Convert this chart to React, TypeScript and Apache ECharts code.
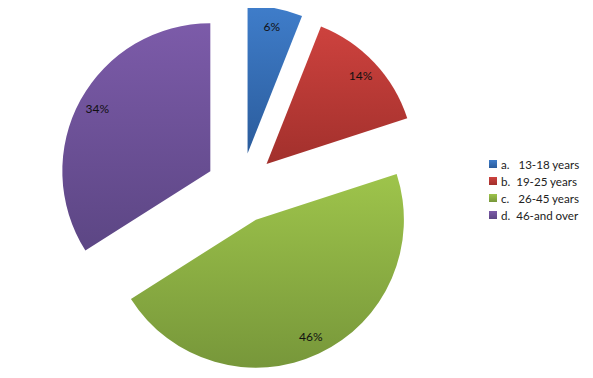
import React, { useEffect, useRef } from "react";
import * as echarts from "echarts";

const categories = ["a.   13-18 years", "b.  19-25 years", "c.   26-45 years", "d.  46-and over"];
const values = [6, 14, 46, 34];
const topColors = ["#3f7dca", "#cd423e", "#9ec44b", "#7c5ba9"];
const bottomColors = ["#2b5c9c", "#a2302c", "#77973a", "#5c4684"];

export default function App() {
  const ref = useRef<HTMLDivElement>(null);
  useEffect(() => {
    const chart = echarts.init(ref.current!, null, { renderer: "svg" });
    const grad = (i: number) =>
      new echarts.graphic.LinearGradient(0, 0, 0, 1, [
        { offset: 0, color: topColors[i] },
        { offset: 1, color: bottomColors[i] },
      ]);
    const data = categories.map((name, i) => ({
      name,
      value: values[i],
      selected: true,
      itemStyle: { color: grad(i) },
    }));
    const labelData = categories.map((name, i) => ({
      name,
      value: values[i],
      selected: true,
    }));
    chart.setOption({
      animation: false,
      backgroundColor: "#ffffff",
      legend: {
        orient: "vertical",
        left: 484,
        top: 153,
        itemWidth: 8,
        itemHeight: 8,
        itemGap: 5,
        icon: "rect",
        data: categories,
        textStyle: { fontFamily: "Lato", fontSize: 11.6, color: "#222", padding: [0, 0, 0, -1] },
        selectedMode: false,
      },
      series: [
        {
          type: "pie",
          center: [241, 188],
          radius: [0, 148],
          startAngle: 90,
          clockwise: true,
          selectedMode: "multiple",
          selectedOffset: 35,
          silent: true,
          label: { show: false },
          labelLine: { show: false },
          data,
        },
        {
          type: "pie",
          center: [241, 188],
          radius: [104, 148],
          startAngle: 90,
          clockwise: true,
          selectedMode: "multiple",
          selectedOffset: 35,
          silent: true,
          itemStyle: { color: "rgba(0,0,0,0)" },
          label: {
            show: true,
            position: "inside",
            formatter: "{c}%",
            fontFamily: "Lato",
            fontSize: 12,
            color: "#111",
          },
          labelLine: { show: false },
          data: labelData,
        },
      ],
    });
    return () => chart.dispose();
  }, []);
  return <div ref={ref} style={{ width: 593, height: 378, margin: -8 }} />;
}
